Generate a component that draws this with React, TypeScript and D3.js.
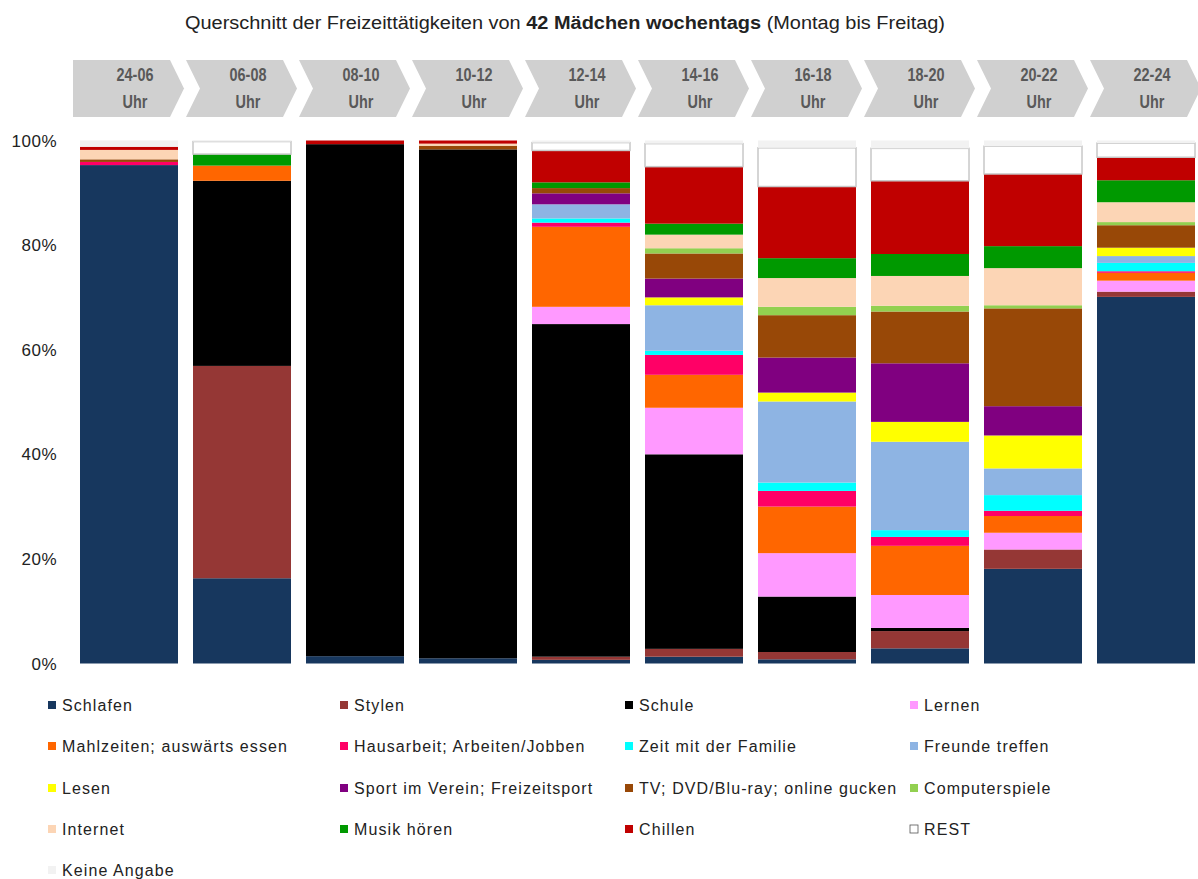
import React from "react";
import * as d3 from "d3";

const categories = ["24-06", "06-08", "08-10", "10-12", "12-14", "14-16", "16-18", "18-20", "20-22", "22-24"];
const schlafen = [95.3, 16.3, 1.4, 1.0, 0.7, 1.3, 0.8, 2.9, 18.1, 70.1];
const stylen = [0, 40.6, 0, 0, 0.6, 1.5, 1.4, 3.3, 3.7, 1.0];
const schule = [0, 35.4, 97.9, 97.3, 63.6, 37.2, 10.6, 0.6, 0, 0];
const lernen = [0, 0, 0, 0, 3.3, 8.9, 8.3, 6.3, 3.2, 2.1];
const mahlzeiten = [0, 2.9, 0, 0, 15.3, 6.3, 8.9, 9.4, 3.2, 1.5];
const hausarbeit = [0.6, 0, 0, 0, 0.8, 3.8, 3.0, 1.7, 1.0, 0.3];
const familie = [0, 0, 0, 0, 0.8, 0.8, 1.6, 1.3, 3.0, 1.6];
const freunde = [0, 0, 0, 0, 2.7, 8.7, 15.5, 16.9, 5.1, 1.3];
const lesen = [0, 0, 0, 0, 0, 1.5, 1.7, 3.8, 6.3, 1.6];
const sport = [0, 0, 0, 0, 2.1, 3.6, 6.7, 11.2, 5.6, 0];
const tv = [0.5, 0, 0, 0.7, 1.0, 4.8, 8.1, 9.9, 18.7, 4.3];
const computer = [0, 0, 0, 0, 0, 1.0, 1.6, 1.1, 0.6, 0.6];
const internet = [1.8, 0, 0, 0.4, 0, 2.6, 5.5, 5.7, 7.1, 3.8];
const musik = [0, 2.2, 0, 0, 1.1, 2.1, 3.8, 4.2, 4.2, 4.2];
const chillen = [0.6, 0, 0.7, 0.6, 6.1, 10.9, 13.7, 14.0, 13.8, 4.4];
const rest = [0, 2.4, 0, 0, 1.5, 4.4, 7.4, 6.2, 5.3, 2.7];
const keineAngabe = [1.2, 0.2, 0, 0, 0.4, 0.6, 1.4, 1.5, 1.1, 0.5];

const seriesNames = [
  "Schlafen", "Stylen", "Schule", "Lernen",
  "Mahlzeiten; auswärts  essen", "Hausarbeit; Arbeiten/Jobben", "Zeit mit der Familie", "Freunde treffen",
  "Lesen", "Sport im Verein; Freizeitsport", "TV; DVD/Blu-ray; online gucken", "Computerspiele",
  "Internet", "Musik hören", "Chillen", "REST",
  "Keine Angabe",
];
const seriesValues = [
  schlafen, stylen, schule, lernen, mahlzeiten, hausarbeit, familie, freunde,
  lesen, sport, tv, computer, internet, musik, chillen, rest, keineAngabe,
];
const seriesColors = [
  "#17375E", "#953735", "#000000", "#FF99FF",
  "#FF6600", "#FF0066", "#00FFFF", "#8EB4E3",
  "#FFFF00", "#800080", "#984807", "#92D050",
  "#FCD5B5", "#009900", "#C00000", "#FFFFFF",
  "#F2F2F2",
];
const yTicks = [0, 20, 40, 60, 80, 100];

const W = 1198;
const H = 879;

export default function App() {
  const x = d3.scaleBand<string>().domain(categories).range([80, 1195]).paddingInner(15 / 113).paddingOuter(0);
  const y = d3.scaleLinear().domain([0, 100]).range([663.5, 140.5]);

  const table = categories.map((c, i) => {
    const row: any = { cat: c };
    seriesNames.forEach((n, k) => (row[n] = seriesValues[k][i]));
    return row;
  });
  const stacked = d3.stack<any>().keys(seriesNames)(table);

  const narrow = "'Liberation Sans Narrow', 'Arial Narrow', 'Liberation Sans', Arial, sans-serif";

  const chevron = (i: number) => {
    const x0 = (x(categories[i]) as number) - 7;
    const top = 60, bot = 117, mid = (top + bot) / 2;
    const bodyW = 97, tip = 14;
    const notch = i === 0 ? 0 : 14;
    return `M${x0},${top} L${x0 + bodyW},${top} L${x0 + bodyW + tip},${mid} L${x0 + bodyW},${bot} L${x0},${bot} L${x0 + notch},${mid} Z`;
  };

  const legendCols = [48, 340, 625, 910];
  const legendRows = [705, 746, 788, 829, 870];

  return (
    <svg width={W} height={H} style={{ position: "absolute", left: 0, top: 0, background: "#fff" }}
      fontFamily="'Liberation Sans', Arial, sans-serif">
      <text x={565} y={29} textAnchor="middle" fontSize={18} fontFamily={narrow} fill="#222"
        textLength={760} lengthAdjust="spacingAndGlyphs">
        Querschnitt der Freizeittätigkeiten von <tspan fontWeight="bold">42 Mädchen wochentags</tspan> (Montag bis Freitag)
      </text>

      {categories.map((c, i) => {
        const cx = (x(c) as number) + x.bandwidth() / 2 + 6;
        return (
          <g key={c}>
            <path d={chevron(i)} fill="#D0D0D0" />
            <g transform={`translate(${cx},0) scale(0.85,1.1)`}>
              <text x={0} y={74} textAnchor="middle" fontSize={17} fontWeight="bold" fontFamily={narrow} fill="#595959">{c}</text>
              <text x={0} y={98} textAnchor="middle" fontSize={17} fontWeight="bold" fontFamily={narrow} fill="#595959">Uhr</text>
            </g>
          </g>
        );
      })}

      {yTicks.map((t) => (
        <text key={t} x={57} y={y(t) + 6} textAnchor="end" fontSize={17} letterSpacing={0.5} fill="#222">{t}%</text>
      ))}

      {stacked.map((s, k) => (
        <g key={s.key} fill={seriesColors[k]}>
          {s.map((d, i) => {
            const h = y(d[0]) - y(d[1]);
            if (h <= 0) return null;
            const isRest = seriesNames[k] === "REST";
            return (
              <rect key={i} x={x(categories[i]) as number} y={y(d[1])} width={x.bandwidth()} height={h}
                stroke={isRest ? "#C8C8C8" : "none"} strokeWidth={isRest ? 1.5 : 0} />
            );
          })}
        </g>
      ))}

      {seriesNames.map((n, k) => {
        const col = k % 4;
        const row = Math.floor(k / 4);
        const lx = legendCols[col];
        const ly = legendRows[row];
        return (
          <g key={n}>
            <rect x={lx} y={ly - 4} width={8} height={8} fill={seriesColors[k]}
              stroke={n === "REST" ? "#555" : "none"} strokeWidth={n === "REST" ? 0.8 : 0} />
            <text x={lx + 14} y={ly + 6} fontSize={16} letterSpacing={1.1} fill="#222">{n}</text>
          </g>
        );
      })}
    </svg>
  );
}
